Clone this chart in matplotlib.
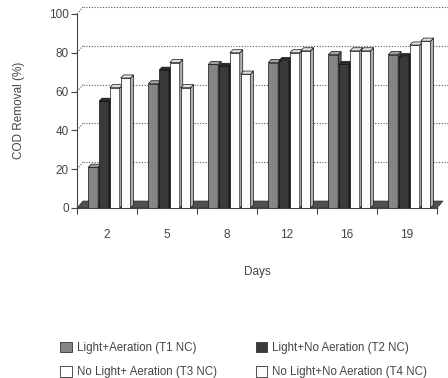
import matplotlib
matplotlib.use("Agg")
import matplotlib.pyplot as plt
from matplotlib.patches import Polygon, Patch

plt.rcParams['font.family'] = ['Liberation Sans', 'DejaVu Sans']

days = ["2", "5", "8", "12", "16", "19"]
series_names = ["Light+Aeration (T1 NC)", "Light+No Aeration (T2 NC)",
                "No Light+ Aeration (T3 NC)", "No Light+No Aeration (T4 NC)"]
t1 = [21, 64, 74, 75, 79, 79]
t2 = [55, 71, 73, 76, 74, 78]
t3 = [62, 75, 80, 80, 81, 84]
t4 = [67, 62, 69, 81, 81, 86]
yticks = [0, 20, 40, 60, 80, 100]

series = [t1, t2, t3, t4]
front_cols = ["#858585", "#3a3a3a", "#ffffff", "#fbfbfb"]
top_cols = ["#a0a0a0", "#2a2a2a", "#e0e0e0", "#e0e0e0"]
side_cols = ["#5a5a5a", "#1e1e1e", "#b0b0b0", "#b0b0b0"]

fig = plt.figure(figsize=(4.48, 3.78), dpi=100)
ax = fig.add_axes([77/448, 170/378, 360/448, 194/378])
ax.set_xlim(-0.5, 5.5)
ax.set_ylim(0, 100)

# back wall offset and bar depth
wdx, wdy = 0.1, 3.6
bdx, bdy = 0.05, 1.6
w = 0.165
step = 0.18

# gridlines on back wall
for yv in yticks[1:]:
    ax.plot([-0.5 + wdx, 5.7], [yv + wdy, yv + wdy], ls=(0, (1, 1.5)), color="#555555",
            lw=0.8, clip_on=False, zorder=1)
    ax.plot([-0.5, -0.5 + wdx], [yv, yv + wdy], ls=(0, (1, 1.5)), color="#555555",
            lw=0.8, clip_on=False, zorder=1)

# floor
floor = Polygon([(-0.5, 0), (5.5, 0), (5.5 + wdx, wdy), (-0.5 + wdx, wdy)],
                closed=True, facecolor="#505050", edgecolor="#333333", lw=0.5,
                clip_on=False, zorder=2)
ax.add_patch(floor)

z = 3
for j in range(len(days)):
    for i, s in enumerate(series):
        h = s[j]
        x0 = j + (i - 1.5) * step + 0.04 - w / 2
        x1 = x0 + w
        ax.bar(x0, h, width=w, align="edge", color=front_cols[i], edgecolor="#111111",
               lw=0.5, zorder=z)
        top = Polygon([(x0, h), (x1, h), (x1 + bdx, h + bdy), (x0 + bdx, h + bdy)],
                      closed=True, facecolor=top_cols[i], edgecolor="#111111", lw=0.5,
                      zorder=z, clip_on=False)
        side = Polygon([(x1, 0), (x1 + bdx, bdy), (x1 + bdx, h + bdy), (x1, h)],
                       closed=True, facecolor=side_cols[i], edgecolor="#111111", lw=0.5,
                       zorder=z, clip_on=False)
        ax.add_patch(side)
        ax.add_patch(top)
        z += 1

for sp in ["top", "right"]:
    ax.spines[sp].set_visible(False)
ax.spines["left"].set_color("#444444")
ax.spines["bottom"].set_color("#444444")
ax.spines["left"].set_linewidth(0.8)
ax.spines["bottom"].set_linewidth(0.8)

ax.set_yticks(yticks)
ax.set_yticklabels([str(v) for v in yticks], fontsize=8.5, color="#444444")
ax.tick_params(axis="y", length=4, width=0.8, color="#444444", pad=2)
ax.set_xticks([k - 0.5 for k in range(len(days) + 1)])
ax.set_xticklabels([])
ax.tick_params(axis="x", length=4, width=0.8, color="#444444", direction="out")
for j, d in enumerate(days):
    ax.text(j, -14, d, ha="center", va="center", fontsize=8.5, color="#444444")

ax.text(2.5, -33, "Days", ha="center", va="center", fontsize=8.5, color="#444444")
fig.text(19/448, 1 - 110/378, "COD Removal (%)", rotation=90, ha="center", va="center",
         fontsize=8.5, color="#444444")

handles = [Patch(facecolor=front_cols[i], edgecolor="#333333", lw=0.6) for i in range(4)]
order = [0, 2, 1, 3]
leg = fig.legend([handles[k] for k in order], [series_names[k] for k in order],
                 ncol=2, loc="center left", bbox_to_anchor=(50/448, 1 - 360/378),
                 frameon=False, fontsize=8.3, handlelength=1.0, handleheight=1.0,
                 handletextpad=0.4, columnspacing=3.4, labelspacing=1.1,
                 labelcolor="#444444")

fig.savefig("out.png", dpi=100)
